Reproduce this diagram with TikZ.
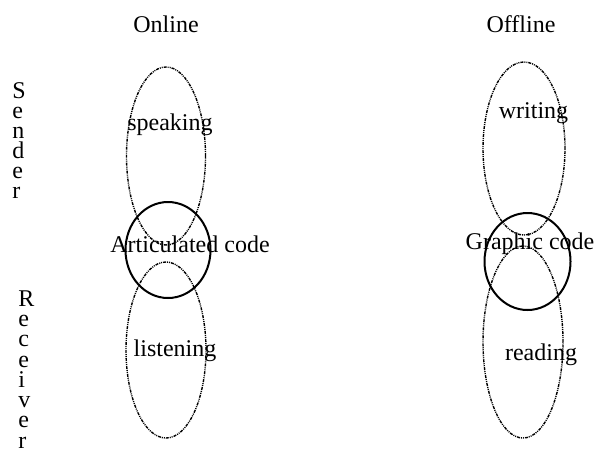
\documentclass[tikz,border=0pt]{standalone}
\usepackage{fontspec}
\setmainfont{Liberation Serif}
\usetikzlibrary{shapes.geometric}
\begin{document}
\begin{tikzpicture}[x=0.5pt,y=-0.5pt,
  lbl/.style={font=\fontsize{12pt}{14pt}\selectfont, inner sep=0pt, anchor=base},
  side/.style={align=left, inner sep=0pt, anchor=north west},
  act/.style={draw, ellipse, inner sep=0pt, line width=0.7pt,
    dash pattern=on 1.5pt off 0.5pt on 0.5pt off 0.5pt on 0.5pt off 0.5pt},
  code/.style={draw, ellipse, inner sep=0pt, line width=1pt}]
\useasboundingbox (0,0) rectangle (598,451);
% titles
\node[lbl] (online) at (166,32) {Online};
\node[lbl] (offline) at (521,32) {Offline};
% side labels
\node[side, font=\fontsize{12pt}{10pt}\selectfont] (sender) at (12,82)
  {S\\e\\n\\d\\e\\r};
\node[side, font=\fontsize{12pt}{10.15pt}\selectfont] (receiver) at (18,290)
  {R\\e\\c\\e\\i\\v\\e\\r};
% online
\node[act, minimum width=39.5pt, minimum height=89pt] (speakE) at (166,156) {};
\node[act, minimum width=40pt, minimum height=88pt] (listenE) at (166,350) {};
\node[code, minimum width=42.5pt, minimum height=48pt] (artE) at (168,250) {};
\node[lbl] (speaking) at (170,130) {speaking};
\node[lbl] (listening) at (175,356) {listening};
\node[lbl] (artic) at (190,252) {Articulated code};
% offline
\node[act, minimum width=41pt, minimum height=86.5pt] (writeE) at (524,148.5) {};
\node[act, minimum width=40pt, minimum height=96pt] (readE) at (523,342) {};
\node[code, minimum width=43pt, minimum height=48.5pt] (graphE) at (527.5,261.5) {};
\node[lbl] (writing) at (533.5,118) {writing};
\node[lbl] (reading) at (541,360) {reading};
\node[lbl] (graphic) at (530,249) {Graphic code};
\end{tikzpicture}
\end{document}
